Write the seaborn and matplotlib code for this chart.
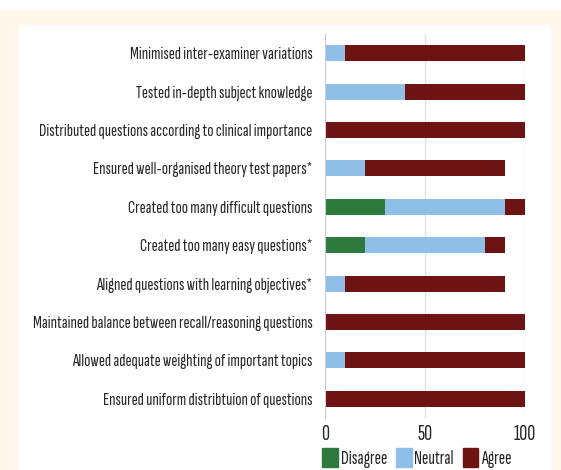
import matplotlib
matplotlib.use("Agg")
import matplotlib.pyplot as plt
import matplotlib.patches as mpatches
import numpy as np
import pandas as pd
import seaborn as sns

# Survey statements (top to bottom) and percentage of responses
statements = [
    "Minimised inter-examiner variations",
    "Tested in-depth subject knowledge",
    "Distributed questions according to clinical importance",
    "Ensured well-organised theory test papers*",
    "Created too many difficult questions",
    "Created too many easy questions*",
    "Aligned questions with learning objectives*",
    "Maintained balance between recall/reasoning questions",
    "Allowed adequate weighting of important topics",
    "Ensured uniform distribtuion of questions",
]
disagree = [0, 0, 0, 0, 30, 20, 0, 0, 0, 0]
neutral = [10, 40, 0, 20, 60, 60, 10, 0, 10, 0]
agree = [90, 60, 100, 70, 10, 10, 80, 100, 90, 100]

colors = {"Disagree": "#2e7a3c", "Neutral": "#8fbfe6", "Agree": "#6e1313"}

sns.set_style("white")
plt.rcParams["font.family"] = ["Sofia Sans Extra Condensed", "DejaVu Sans"]
plt.rcParams["font.weight"] = "medium"

df = pd.DataFrame({"statement": statements,
                   "Disagree": disagree, "Neutral": neutral, "Agree": agree})
# cumulative ends so the bars can be layered from the longest down
df["end_agree"] = df["Disagree"] + df["Neutral"] + df["Agree"]
df["end_neutral"] = df["Disagree"] + df["Neutral"]
df["end_disagree"] = df["Disagree"]

fig = plt.figure(figsize=(5.61, 4.70), dpi=100)
fig.patch.set_facecolor("white")
# cream frame with a white inner panel behind the chart
frame = fig.add_axes([0, 0, 1, 1 - 10 / 470], zorder=-6)
frame.set_axis_off()
frame.add_patch(mpatches.Rectangle((0, 0), 1, 1, transform=frame.transAxes,
                                   facecolor="#fff7ec", edgecolor="none"))
bg = fig.add_axes([19 / 561, 0, (551 - 19) / 561, 1 - 25 / 470], zorder=-5)
bg.set_axis_off()
bg.add_patch(mpatches.Rectangle((0, 0), 1, 1, transform=bg.transAxes,
                                facecolor="white", edgecolor="none"))

ax = fig.add_axes([325 / 561, 1 - 418 / 470, 200 / 561, (418 - 34) / 470])
ax.set_facecolor("none")

for col, name in [("end_agree", "Agree"), ("end_neutral", "Neutral"), ("end_disagree", "Disagree")]:
    sns.barplot(data=df, x=col, y="statement", color=colors[name], width=0.42,
                linewidth=0, saturation=1, orient="h", ax=ax)

ax.set_xlim(0, 100)
ax.set_ylim(9.5, -0.5)
ax.set_xticks([0, 50, 100])
ax.set_xlabel("")
ax.set_ylabel("")
ax.tick_params(axis="x", length=0, labelsize=16, pad=5)
ax.tick_params(axis="y", length=0, labelsize=13.2, pad=9)
ax.set_yticks(np.arange(-0.5, 10, 1), minor=True)
ax.tick_params(axis="y", which="minor", length=3, color="#cccccc", width=0.8)
ax.xaxis.grid(True, color="#dddddd", linewidth=0.9)
ax.set_axisbelow(True)
for s in ["top", "right", "bottom"]:
    ax.spines[s].set_visible(False)
ax.spines["left"].set_color("#cccccc")
ax.spines["left"].set_linewidth(0.8)

handles = [mpatches.Patch(color=colors[k], label=k) for k in ["Disagree", "Neutral", "Agree"]]
ax.legend(handles=handles, loc="center", bbox_to_anchor=(0.46, -0.104), ncol=3,
          frameon=False, fontsize=14, handlelength=0.8, handleheight=1.1,
          handletextpad=0.15, columnspacing=0.45, borderaxespad=0, borderpad=0)

fig.savefig("out.png", dpi=100, facecolor=fig.get_facecolor())
